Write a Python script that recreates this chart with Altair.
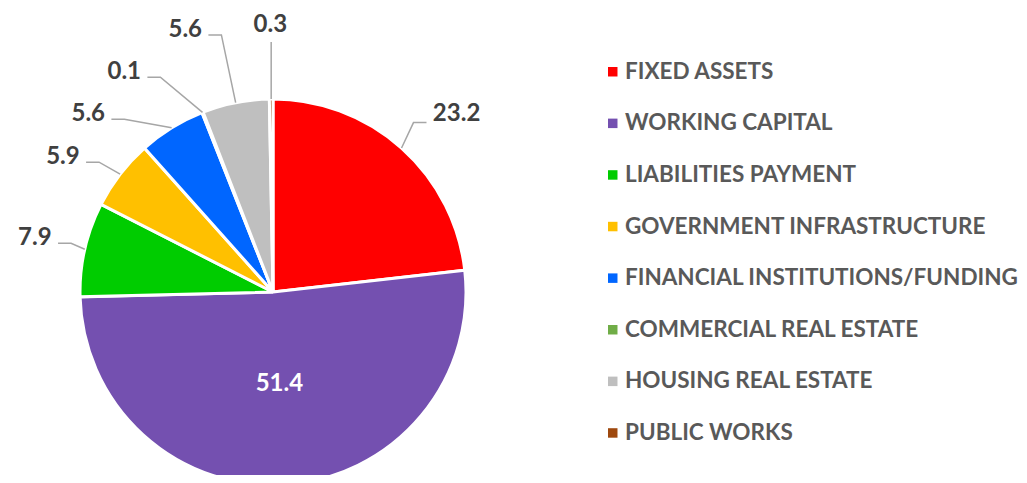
import math
import altair as alt
import pandas as pd

categories = [
    "FIXED ASSETS",
    "WORKING CAPITAL",
    "LIABILITIES PAYMENT",
    "GOVERNMENT INFRASTRUCTURE",
    "FINANCIAL INSTITUTIONS/FUNDING",
    "COMMERCIAL REAL ESTATE",
    "HOUSING REAL ESTATE",
    "PUBLIC WORKS",
]
values = [23.2, 51.4, 7.9, 5.9, 5.6, 0.1, 5.6, 0.3]
colors = ["#FF0000", "#7450B0", "#00CC00", "#FFC000", "#0066FF", "#70AD47", "#BFBFBF", "#9E480E"]

# ---- layout constants (chart pixel space) ----
W, H = 1011, 467
CX, CY, R = 265.0, 284.0, 193.0
FS = 24
LH = 24
PADX, PADY = 50, 18
FONT = "Lato"
TOP = 17

labels = [f"{v:.1f}" for v in values]


def text_w(s):
    return sum(0.27 * FS if c == "." else 0.58 * FS for c in s)


total = sum(values)
mids = []
acc = 0.0
for v in values:
    mids.append((acc + v / 2) / total * 2 * math.pi)
    acc += v


def place(theta, w):
    s, c = math.sin(theta), math.cos(theta)
    if s >= 0:
        D = 232.0
        ax, ay = CX + D * s, CY - D * c
        x, y = ax + (w / 2 + 5) * min(1.0, 1.5 * s), ay - LH / 2 * c * 0.6
    else:
        D = 230 + 40 * max(0.0, c) ** 3
        ax, ay = CX + D * s, CY - D * c
        x, y = ax + w / 2 * s * 0.8, ay - LH / 2 * c
    return x, max(y, TOP)


def overlap(a, b):
    (x1, y1, w1), (x2, y2, w2) = a, b
    return abs(x1 - x2) < (w1 + w2) / 2 + PADX and abs(y1 - y2) < LH + PADY


placed = {}
inside = [i for i, v in enumerate(values) if v / total > 0.3]
outside = [i for i in range(len(values)) if i not in inside]
left = sorted([i for i in outside if mids[i] > math.pi], key=lambda i: -mids[i])
right = sorted([i for i in outside if mids[i] <= math.pi], key=lambda i: mids[i])

for group, step in ((left, -1), (right, 1)):
    prev = None
    prev_th = None
    for i in group:
        w = text_w(labels[i])
        th = mids[i]
        if prev_th is not None:
            th = min(th, prev_th) if step < 0 else max(th, prev_th)
        while True:
            x, y = place(th, w)
            if prev is None or not overlap((x, y, w), prev):
                break
            th += step * math.radians(0.25)
        placed[i] = (x, y, w)
        prev = (x, y, w)
        prev_th = th

text_rows = []
line_rows = []
for i in range(len(values)):
    if i in inside:
        r = 0.48 * R
        text_rows.append({"x": CX + r * math.sin(mids[i]), "y": CY - r * math.cos(mids[i]),
                          "label": labels[i], "inside": 1})
        continue
    x, y, w = placed[i]
    text_rows.append({"x": x, "y": y, "label": labels[i], "inside": 0})
    p0x, p0y = CX + R * math.sin(mids[i]), CY - R * math.cos(mids[i])
    if abs(x - p0x) < w / 2:
        pts = [(p0x, p0y), (p0x, y + 17)]
    elif x < p0x:
        axp, ayp = x + w / 2 + 6, y + 5
        pts = [(p0x, p0y), (axp + 13, ayp), (axp, ayp)]
    else:
        axp, ayp = x - w / 2 - 6, y + 9
        pts = [(p0x, p0y), (axp - 13, ayp), (axp, ayp)]
    for k, (px, py) in enumerate(pts):
        line_rows.append({"cat": categories[i], "k": k, "x": px, "y": py})

pie_df = pd.DataFrame({"category": categories, "value": values, "ord": list(range(len(values)))})
text_df = pd.DataFrame(text_rows)
line_df = pd.DataFrame(line_rows)

xs = alt.Scale(domain=[0, W], range=[0, W], nice=False, zero=False)
ys = alt.Scale(domain=[0, H], range=[0, H], nice=False, zero=False)

pie = alt.Chart(pie_df).mark_arc(outerRadius=R, stroke="white", strokeWidth=3).encode(
    theta=alt.Theta("value:Q", stack=True),
    order=alt.Order("ord:Q", sort="ascending"),
    color=alt.Color(
        "category:N",
        scale=alt.Scale(domain=categories, range=colors),
        sort=categories,
        legend=alt.Legend(
            title=None, orient="none", legendX=593.5, legendY=52.5,
            symbolType="square", symbolSize=90, symbolStrokeWidth=0,
            labelFont=FONT, labelFontSize=22.5, labelFontWeight="bold",
            labelColor="#595959", rowPadding=28.6, labelOffset=1, labelLimit=600, padding=0,
        ),
    ),
    x=alt.value(CX),
    y=alt.value(CY),
)

leaders = alt.Chart(line_df).mark_line(color="#A6A6A6", strokeWidth=1.5).encode(
    x=alt.X("x:Q", scale=xs, axis=None),
    y=alt.Y("y:Q", scale=ys, axis=None),
    detail="cat:N",
    order="k:Q",
)

texts = alt.Chart(text_df).mark_text(font=FONT, fontSize=FS, fontWeight="bold", baseline="middle",
                                     align="center").encode(
    x=alt.X("x:Q", scale=xs, axis=None),
    y=alt.Y("y:Q", scale=ys, axis=None),
    text="label:N",
    color=alt.condition("datum.inside == 1", alt.value("#FFFFFF"), alt.value("#404040")),
)

chart = alt.layer(pie, leaders, texts).properties(
    width=W, height=H, padding=0, autosize="none"
).configure_view(stroke=None)

chart.save("out.html", embed_options={"renderer": "svg", "actions": False})
